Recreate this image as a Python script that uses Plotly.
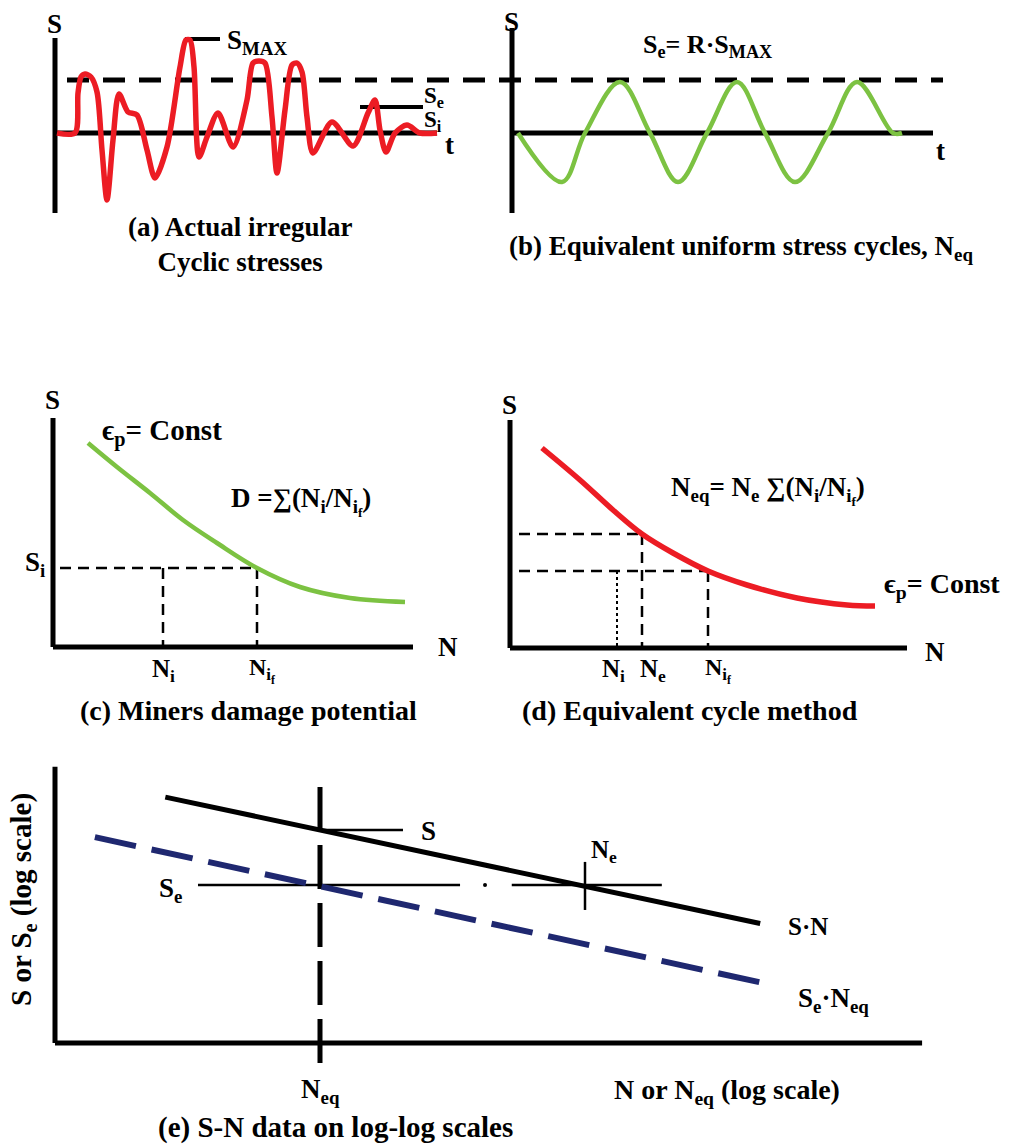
import plotly.graph_objects as go

# ---------------- data (panel-local units) ----------------
# (a) actual irregular cyclic stresses: time t, stress S
a_t = [0.2, 2.0, 2.3, 2.6, 3.0, 3.6, 4.2, 4.7, 5.2, 5.8, 6.4, 7.3, 8.2, 9.2, 10.0, 11.2, 12.5, 13.1, 13.5,
       13.9, 14.4, 15.2, 16.3, 17.8, 19.2, 19.8, 20.4, 21.0, 21.7, 22.2, 23.0, 23.7, 24.2, 24.7, 25.2,
       25.8, 27.7, 29.8, 31.3, 32.0, 32.5, 33.1, 34.0, 35.2, 36.5, 38.2]
a_S = [0.0, 0.0, 4.0, 5.6, 5.9, 5.6, 4.1, -1.7, -6.7, -0.7, 3.9, 2.1, 1.8, -1.7, -4.5, -1.4, 6.6, 9.3, 9.3,
       6.6, -2.4, -0.4, 2.0, -1.4, 3.3, 7.0, 7.2, 7.0, 1.6, -4.0, 2.3, 6.8, 7.0, 6.1, 1.6,
       -2.0, 1.1, -1.3, 2.0, 3.3, 0.3, -1.9, 0.0, 0.8, 0.0, 0.0]
a_axis_t_end = 38.2
a_axis_S = [9.5, -8.0]
S_e_level = 5.3
S_e_span = [1.2, 88.8]
S_max_level = 9.4
S_max_tick = [13.0, 16.5]
S_i_level = 2.6
S_i_tick = [30.5, 36.8]

# (b) equivalent uniform cycles
b_t = [0.6, 5.0, 7.3, 10.8, 13.8, 16.6, 19.5, 22.5, 25.3, 28.3, 31.6, 34.5, 38.1, 39.0]
b_S = [0.0, -4.9, 0.0, 5.1, 0.0, -4.9, 0.0, 5.1, 0.0, -4.9, 0.0, 5.1, 0.0, 0.0]
b_axis_t_end = 42.1
b_axis_S = [10.5, -8.0]

# (c) Miner's damage potential: N, S
c_N = [3.5, 6.4, 9.7, 13.0, 16.4, 20.4, 24.7, 29.7, 35.2]
c_S = [20.4, 18.0, 15.4, 12.7, 10.4, 7.9, 6.0, 4.9, 4.5]
c_axis_N_end = 36.0
c_axis_S_top = 22.9
c_Si = 7.9
c_Ni = 11.0
c_Nif = 20.4
c_guide_start = 0.7

# (d) equivalent cycle method
d_N = [3.2, 7.0, 10.3, 13.2, 16.3, 19.8, 23.7, 28.7, 33.7, 36.5]
d_S = [20.0, 16.8, 13.8, 11.4, 9.5, 7.7, 6.3, 5.0, 4.3, 4.2]
d_axis_N_end = 39.7
d_axis_S_top = 22.8
d_Se, d_Si = 11.4, 7.7
d_Ni, d_Ne, d_Nif = 10.7, 13.2, 19.8
d_guide_start = 0.9

# (e) S-N data on log-log scales
e_SN_N = [6.8, 2.1e5]
e_SN_S = [36.0, 5.7]
e_SeNeq_N = [2.0, 2.4e5]
e_SeNeq_S = [20.1, 2.36]
e_axis_N = [1.0, 3.5e6]
e_axis_S = [1.0, 56.0]
e_Neq = 100.0
e_Neq_span = [41.7, 0.73]
e_S = 22.3
e_S_tick = [100.0, 423.0]
e_Se = 10.0
e_Se_left = [12.0, 1140.0]
e_Se_dot = 1760.0
e_Se_right = [2800.0, 38000.0]
e_Ne = 1.0e4
e_Ne_span = [14.0, 6.95]

# ---------------- layout geometry ----------------
W, H = 1019, 1144
UNIT = 10.0  # px per data unit in panels a-d
FONT = "Liberation Serif, Times New Roman, serif"
RED, GREEN, NAVY, BLACK = "#ec1c24", "#7cc242", "#1f2870", "black"

# panel: (x-left px, x-right px, y-top px, y-bottom px, origin x px, origin y px)
PANELS = {
    "a": (0, 1019, 0, 240, 55, 133),
    "b": (480, 1019, 0, 240, 512, 133),
    "c": (0, 480, 380, 720, 53, 647),
    "d": (480, 1019, 380, 720, 510, 648),
}
E_BOX = (0, 1019, 740, 1144, 55, 1043)
E_DEC_X, E_DEC_Y = 132.5, 158.0

fig = go.Figure()
axis_ids = {"a": "", "b": "2", "c": "3", "d": "4", "e": "5"}

layout = dict(width=W, height=H, margin=dict(l=0, r=0, t=0, b=0),
              paper_bgcolor="white", plot_bgcolor="rgba(0,0,0,0)", showlegend=False)


def hidden(**kw):
    d = dict(visible=False, showgrid=False, zeroline=False, fixedrange=True)
    d.update(kw)
    return d


for key, (x0, x1, y0, y1, ox, oy) in PANELS.items():
    i = axis_ids[key]
    layout["xaxis" + i] = hidden(domain=[x0 / W, x1 / W],
                                 range=[(x0 - ox) / UNIT, (x1 - ox) / UNIT],
                                 anchor="y" + i)
    layout["yaxis" + i] = hidden(domain=[1 - y1 / H, 1 - y0 / H],
                                 range=[(oy - y1) / UNIT, (oy - y0) / UNIT],
                                 anchor="x" + i)
x0, x1, y0, y1, ox, oy = E_BOX
layout["xaxis5"] = hidden(type="log", domain=[x0 / W, x1 / W],
                          range=[(x0 - ox) / E_DEC_X, (x1 - ox) / E_DEC_X], anchor="y5")
layout["yaxis5"] = hidden(type="log", domain=[1 - y1 / H, 1 - y0 / H],
                          range=[(oy - y1) / E_DEC_Y, (oy - y0) / E_DEC_Y], anchor="x5")


def line(panel, xs, ys, color=BLACK, width=5, dash=None, shape="linear", smoothing=None):
    i = axis_ids[panel]
    ln = dict(color=color, width=width, shape=shape)
    if dash:
        ln["dash"] = dash
    if smoothing is not None:
        ln["smoothing"] = smoothing
    fig.add_trace(go.Scatter(x=xs, y=ys, mode="lines", line=ln, hoverinfo="skip",
                             xaxis="x" + i, yaxis="y" + i))


# ----- panel a -----
line("a", [0, 0], a_axis_S, width=5)
line("a", [0, a_axis_t_end], [0, 0], width=5)
line("a", S_e_span, [S_e_level, S_e_level], width=5, dash="22px,14px")
line("a", S_max_tick, [S_max_level] * 2, width=4)
line("a", S_i_tick, [S_i_level] * 2, width=4)
line("a", a_t, a_S, color=RED, width=5.5, shape="spline", smoothing=0.8)

# ----- panel b -----
line("b", [0, 0], b_axis_S, width=5)
line("b", [0, b_axis_t_end], [0, 0], width=5)
line("b", b_t, b_S, color=GREEN, width=4.5, shape="spline", smoothing=1.0)

# ----- panel c -----
line("c", [0, 0], [c_axis_S_top, 0], width=5)
line("c", [0, c_axis_N_end], [0, 0], width=5)
line("c", [c_guide_start, c_Nif], [c_Si, c_Si], width=2.5, dash="11px,7px")
line("c", [c_Ni, c_Ni], [c_Si, 0], width=2.5, dash="11px,7px")
line("c", [c_Nif, c_Nif], [c_Si, 0], width=2.5, dash="11px,7px")
line("c", c_N, c_S, color=GREEN, width=4.5, shape="spline", smoothing=1.0)

# ----- panel d -----
line("d", [0, 0], [d_axis_S_top, 0], width=5)
line("d", [0, d_axis_N_end], [0, 0], width=5)
line("d", [d_guide_start, d_Ne], [d_Se, d_Se], width=2.5, dash="11px,7px")
line("d", [d_guide_start, d_Nif], [d_Si, d_Si], width=2.5, dash="11px,7px")
line("d", [d_Ne, d_Ne], [d_Se, 0], width=2.5, dash="11px,7px")
line("d", [d_Nif, d_Nif], [d_Si, 0], width=2.5, dash="11px,7px")
line("d", [d_Ni, d_Ni], [d_Si, 0], width=2, dash="dot")
line("d", d_N, d_S, color=RED, width=5.5, shape="spline", smoothing=1.0)

# ----- panel e -----
line("e", [e_axis_N[0]] * 2, e_axis_S, width=5)
line("e", e_axis_N, [e_axis_S[0]] * 2, width=5)
line("e", [e_Neq, e_Neq], e_Neq_span, width=5, dash="44px,14px")
line("e", e_S_tick, [e_S, e_S], width=2.5)
line("e", e_Se_left, [e_Se, e_Se], width=2.5)
line("e", e_Se_right, [e_Se, e_Se], width=2.5)
line("e", [e_Ne, e_Ne], e_Ne_span, width=2.5)
line("e", e_SN_N, e_SN_S, width=5)
line("e", e_SeNeq_N, e_SeNeq_S, color=NAVY, width=6, dash="42px,16px")
fig.add_trace(go.Scatter(x=[e_Se_dot], y=[e_Se], mode="markers", hoverinfo="skip",
                         marker=dict(color=BLACK, size=4), xaxis="x5", yaxis="y5"))

# ---------------- text ----------------
LABELS = [
    # text, x px, y px, size, xanchor, angle
    ("S", 54, 24, 27, "center", 0),
    ("S<sub>MAX</sub>", 225, 42, 27, "left", 0),
    ("S<sub>e</sub>", 422, 97, 23, "left", 0),
    ("S<sub>i</sub>", 422, 121, 23, "left", 0),
    ("t", 449, 145, 27, "center", 0),
    ("(a) Actual irregular<br>Cyclic stresses", 240, 244, 27, "center", 0),
    ("S", 512, 22, 27, "center", 0),
    ("S<sub>e</sub>= R·S<sub>MAX</sub>", 707, 46, 26, "center", 0),
    ("t", 940, 151, 27, "center", 0),
    ("(b) Equivalent uniform stress cycles, N<sub>eq</sub>", 741, 248, 27, "center", 0),
    ("S", 52, 400, 27, "center", 0),
    ("ϵ<sub>p</sub>= Const", 100, 432, 29, "left", 0),
    ("D =∑(N<sub>i</sub>/N<sub>i<sub>f</sub></sub>)", 301, 502, 27, "center", 0),
    ("S<sub>i</sub>", 35, 564, 27, "center", 0),
    ("N", 448, 647, 27, "center", 0),
    ("N<sub>i</sub>", 163, 670, 25, "center", 0),
    ("N<sub>i<sub>f</sub></sub>", 262, 670, 24, "center", 0),
    ("(c) Miners damage potential", 248, 710, 28, "center", 0),
    ("S", 510, 405, 27, "center", 0),
    ("N<sub>eq</sub>= N<sub>e</sub> ∑(N<sub>i</sub>/N<sub>i<sub>f</sub></sub>)", 768, 490, 27, "center", 0),
    ("ϵ<sub>p</sub>= Const", 882, 586, 28, "left", 0),
    ("N", 935, 652, 27, "center", 0),
    ("N<sub>i</sub>", 613, 670, 25, "center", 0),
    ("N<sub>e</sub>", 653, 670, 25, "center", 0),
    ("N<sub>i<sub>f</sub></sub>", 718, 670, 24, "center", 0),
    ("(d) Equivalent cycle method", 690, 710, 28, "center", 0),
    ("S or S<sub>e</sub> (log scale)", 23, 900, 29, "center", -90),
    ("S", 428, 831, 27, "center", 0),
    ("S<sub>e</sub>", 170, 890, 27, "center", 0),
    ("N<sub>e</sub>", 604, 851, 25, "center", 0),
    ("S·N", 808, 926, 25, "center", 0),
    ("S<sub>e</sub>·N<sub>eq</sub>", 833, 1000, 27, "center", 0),
    ("N<sub>eq</sub>", 320, 1091, 27, "center", 0),
    ("N or N<sub>eq</sub> (log scale)", 727, 1091, 28, "center", 0),
    ("(e) S-N data on log-log scales", 335, 1127, 29, "center", 0),
]
anns = []
for text, px, py, size, xa, ang in LABELS:
    anns.append(dict(text=text, x=px / W, y=1 - py / H, xref="paper", yref="paper",
                     xanchor=xa, yanchor="middle", showarrow=False, textangle=ang,
                     font=dict(family=FONT, size=size, color=BLACK, weight="bold")))
layout["annotations"] = anns
fig.update_layout(**layout)

fig.write_html("out.html", config={"displayModeBar": False, "staticPlot": True},
               post_script="document.body.style.margin='0';document.body.style.overflow='hidden';")
